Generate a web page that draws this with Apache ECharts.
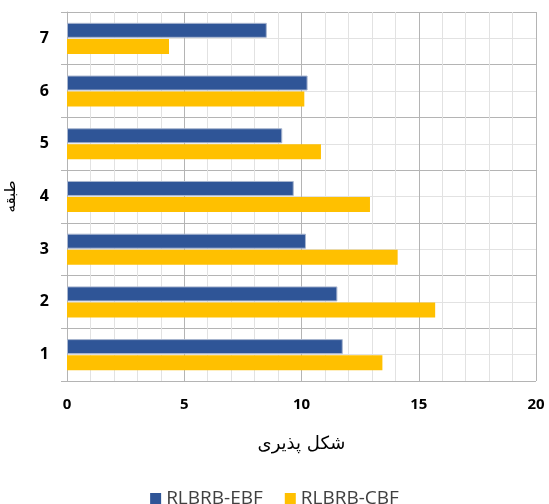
<!DOCTYPE html>
<html>
<head>
<meta charset="utf-8">
<script src="https://cdn.jsdelivr.net/npm/echarts@6/dist/echarts.min.js"></script>
<style>
  html, body { margin: 0; padding: 0; background: #fff; }
  #chart { width: 549px; height: 504px; }
</style>
</head>
<body>
<div id="chart"></div>
<script>
// طبقات (از پایین به بالا)
const floors = ['1', '2', '3', '4', '5', '6', '7'];
// مقادیر شکل پذیری
const ebfValues = [11.76, 11.53, 10.19, 9.67, 9.18, 10.26, 8.52];
const cbfValues = [13.45, 15.70, 14.10, 12.92, 10.83, 10.12, 4.35];
const xTicks = [0, 5, 10, 15, 20];

const chart = echarts.init(document.getElementById('chart'));

const option = {
  animation: false,
  grid: { left: 67, right: 13, top: 12, bottom: 123, outerBoundsMode: 'none' },
  legend: {
    data: ['RLBRB-EBF', 'RLBRB-CBF'],
    top: 484,
    left: 'center',
    icon: 'rect',
    itemWidth: 11,
    itemHeight: 11,
    itemGap: 22,
    itemStyle: { borderWidth: 0 },
    textStyle: { fontFamily: 'Open Sans', fontSize: 19, color: '#404040' }
  },
  xAxis: {
    type: 'value',
    min: xTicks[0],
    max: xTicks[xTicks.length - 1],
    interval: 5,
    name: 'شکل پذیری',
    nameLocation: 'middle',
    nameGap: 54,
    nameTextStyle: { fontFamily: 'DejaVu Sans', fontSize: 18, color: '#000' },
    axisLine: { show: false },
    axisTick: { show: false },
    axisLabel: { fontFamily: 'Noto Sans', fontWeight: 'bold', fontSize: 15, color: '#000', margin: 16 },
    splitLine: { show: true, lineStyle: { color: '#b4b4b4', width: 1 } },
    minorTick: { show: false, splitNumber: 5 },
    minorSplitLine: { show: true, lineStyle: { color: '#e2e2e2', width: 1 } }
  },
  yAxis: [
    {
      type: 'category',
      data: floors,
      name: 'طبقه',
      nameLocation: 'middle',
      nameGap: 48,
      nameRotate: 90,
      nameTextStyle: { fontFamily: 'DejaVu Sans', fontSize: 15, color: '#000' },
      axisLine: { show: true, lineStyle: { color: '#b4b4b4' } },
      axisTick: { show: true, length: 6, lineStyle: { color: '#b4b4b4' } },
      axisLabel: { fontFamily: 'Noto Sans', fontWeight: 'bold', fontSize: 16, color: '#000', margin: 18 },
      splitLine: { show: false }
    },
    {
      type: 'value',
      min: 0,
      max: floors.length,
      interval: 1,
      position: 'left',
      axisLine: { show: false },
      axisTick: { show: false },
      axisLabel: { show: false },
      splitLine: { show: true, lineStyle: { color: '#b4b4b4', width: 1 } },
      minorTick: { show: false, splitNumber: 2 },
      minorSplitLine: { show: true, lineStyle: { color: '#e2e2e2', width: 1 } }
    }
  ],
  series: [
    {
      name: 'RLBRB-EBF',
      type: 'bar',
      yAxisIndex: 0,
      data: ebfValues,
      barWidth: 15,
      barGap: '7%',
      itemStyle: { color: '#2F5597', borderColor: '#a9b6cf', borderWidth: 1 }
    },
    {
      name: 'RLBRB-CBF',
      type: 'bar',
      yAxisIndex: 0,
      data: cbfValues,
      barWidth: 15,
      barGap: '7%',
      itemStyle: { color: '#FFC000' }
    }
  ]
};

chart.setOption(option);
</script>
</body>
</html>
